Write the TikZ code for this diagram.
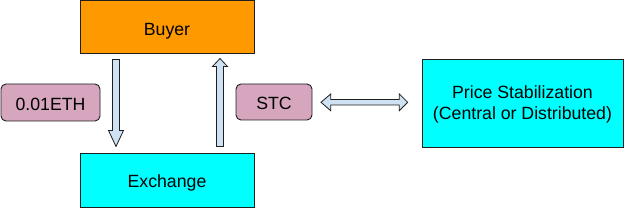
\documentclass[tikz,border=0pt]{standalone}
\usepackage{fontspec}
\setmainfont{Liberation Sans}
\definecolor{buyerorange}{HTML}{FF9900}
\definecolor{boxcyan}{HTML}{00FFFF}
\definecolor{tagpink}{HTML}{D5A6BD}
\definecolor{arrowblue}{HTML}{CFE2F3}
\definecolor{edge}{HTML}{1F1F1F}
\begin{document}
\begin{tikzpicture}[x=1pt,y=-1pt,
  box/.style={draw=edge,line width=0.9pt,inner sep=0pt,align=center,
    font=\fontsize{17.7}{21.7}\selectfont,text height=16pt,text depth=0pt},
  tag/.style={box,rounded corners=5pt,fill=tagpink},
  blockarrow/.style={draw=edge,line width=0.8pt,fill=arrowblue,line join=miter}]
\useasboundingbox (0,0) rectangle (624,208);
\node[box,fill=buyerorange,minimum width=174pt,minimum height=53.5pt] (buyer) at (167,27.2) {Buyer};
\node[box,fill=boxcyan,minimum width=174pt,minimum height=54pt,text height=14.8pt] (exchange) at (167,180) {Exchange};
\node[tag,minimum width=99pt,minimum height=37pt] (eth) at (50.5,102.5) {0.01ETH};
\node[tag,minimum width=76pt,minimum height=36pt] (stc) at (274,102) {STC};
\node[box,fill=boxcyan,minimum width=201pt,minimum height=88pt,text height=34pt] (price) at (522.5,103) {Price Stabilization\\(Central or Distributed)};
% down arrow (Buyer -> Exchange)
\draw[blockarrow] (112.5,59.5) -- (119.5,59.5) -- (119.5,130.5) -- (123.5,130.5) -- (116,146.5) -- (108.5,130.5) -- (112.5,130.5) -- cycle;
% up arrow (Exchange -> Buyer)
\draw[blockarrow] (216.5,146.5) -- (223.5,146.5) -- (223.5,66.5) -- (227.5,66.5) -- (220,58.5) -- (212.5,66.5) -- (216.5,66.5) -- cycle;
% double arrow (STC <-> Price Stabilization)
\draw[blockarrow] (321,102.3) -- (330.7,94) -- (330.7,99.5) -- (399.3,99.5) -- (399.3,94) -- (407.7,102.3) -- (399.3,110.7) -- (399.3,105) -- (330.7,105) -- (330.7,110.7) -- cycle;
\end{tikzpicture}
\end{document}
